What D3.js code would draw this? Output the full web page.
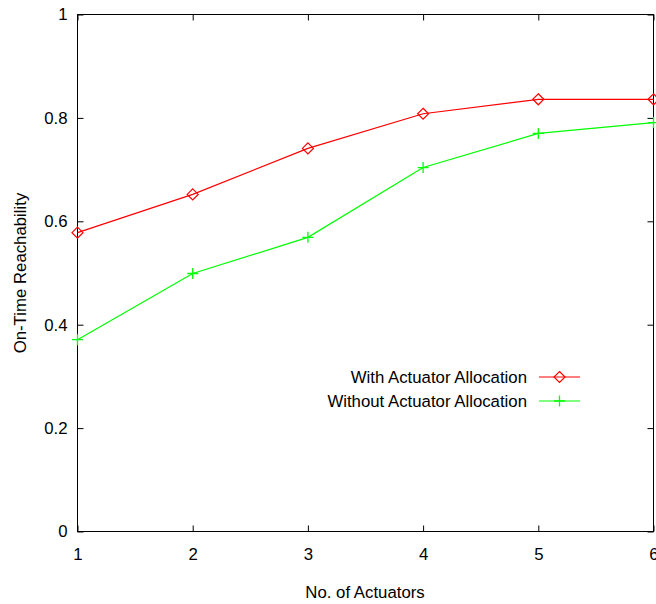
<!DOCTYPE html>
<html>
<head>
<meta charset="utf-8">
<script src="https://cdn.jsdelivr.net/npm/d3@7"></script>
<style>
  html, body { margin: 0; padding: 0; background: #fff; }
  svg { display: block; }
  text { font-family: "Liberation Sans", Arial, Helvetica, sans-serif; fill: #000; }
</style>
</head>
<body>
<script>
// Actuator counts along the x axis
const actuators = [1, 2, 3, 4, 5, 6];
// On-time reachability per actuator count
const withAllocation = [0.578, 0.652, 0.741, 0.808, 0.836, 0.836];
const withoutAllocation = [0.371, 0.499, 0.569, 0.704, 0.770, 0.791];
const yTicks = [0, 0.2, 0.4, 0.6, 0.8, 1];
const yTickLabels = ["0", "0.2", "0.4", "0.6", "0.8", "1"];
const seriesNames = ["With Actuator Allocation", "Without Actuator Allocation"];

const W = 656, H = 604;
const plotLeft = 77.5, plotRight = 653.5, plotTop = 14.5, plotBottom = 531.5;
const fontSize = "16.8px";

const svg = d3.select("body").append("svg").attr("width", W).attr("height", H);

const x = d3.scaleLinear().domain([1, 6]).range([plotLeft, plotRight]);
const y = d3.scaleLinear().domain([0, 1]).range([plotBottom, plotTop]);

const tickLen = 6;

// Left axis (labels) with ticks pointing inward
const yAxis = d3.axisLeft(y).tickValues(yTicks)
  .tickFormat((d, i) => yTickLabels[i]).tickSize(-tickLen).tickPadding(10);
const gy = svg.append("g").attr("transform", `translate(${plotLeft},0)`).call(yAxis);
gy.select(".domain").remove();
gy.selectAll("line").attr("stroke", "#000");
gy.selectAll("text").style("font-size", fontSize).attr("fill", "#000");

// Right mirrored ticks
const gyr = svg.append("g").attr("transform", `translate(${plotRight},0)`)
  .call(d3.axisRight(y).tickValues(yTicks).tickSize(-tickLen).tickFormat(""));
gyr.select(".domain").remove();
gyr.selectAll("line").attr("stroke", "#000");

// Bottom axis with inward ticks
const xAxis = d3.axisBottom(x).tickValues(actuators).tickFormat(d3.format("d"))
  .tickSize(-tickLen).tickPadding(16.5);
const gx = svg.append("g").attr("transform", `translate(0,${plotBottom})`).call(xAxis);
gx.select(".domain").remove();
gx.selectAll("line").attr("stroke", "#000");
gx.selectAll("text").style("font-size", fontSize).attr("fill", "#000");

// Top mirrored ticks
const gxt = svg.append("g").attr("transform", `translate(0,${plotTop})`)
  .call(d3.axisTop(x).tickValues(actuators).tickSize(-tickLen).tickFormat(""));
gxt.select(".domain").remove();
gxt.selectAll("line").attr("stroke", "#000");

// Plot border
svg.append("rect")
  .attr("x", plotLeft).attr("y", plotTop)
  .attr("width", plotRight - plotLeft).attr("height", plotBottom - plotTop)
  .attr("fill", "none").attr("stroke", "#000").attr("stroke-width", 1);

// Axis titles
svg.append("text")
  .attr("x", 365).attr("y", 598)
  .attr("text-anchor", "middle").style("font-size", fontSize)
  .text("No. of Actuators");
svg.append("text")
  .attr("transform", `translate(26,${(plotTop + plotBottom) / 2}) rotate(-90)`)
  .attr("text-anchor", "middle").style("font-size", fontSize)
  .text("On-Time Reachability");

const series = [
  { name: seriesNames[0], values: withAllocation, color: "#ff0000", marker: "diamond" },
  { name: seriesNames[1], values: withoutAllocation, color: "#00ff00", marker: "plus" }
];

const line = d3.line().x((d, i) => x(actuators[i])).y(d => y(d));

function drawMarker(g, type, cx, cy, color) {
  const r = 5.5;
  if (type === "diamond") {
    g.append("path")
      .attr("d", `M${cx},${cy - r}L${cx + r},${cy}L${cx},${cy + r}L${cx - r},${cy}Z`)
      .attr("fill", "none").attr("stroke", color).attr("stroke-width", 1.2);
  } else {
    g.append("path")
      .attr("d", `M${cx - r},${cy}H${cx + r}M${cx},${cy - r}V${cy + r}`)
      .attr("fill", "none").attr("stroke", color).attr("stroke-width", 1.3);
  }
}

series.forEach(s => {
  svg.append("path").datum(s.values)
    .attr("d", line).attr("fill", "none")
    .attr("stroke", s.color).attr("stroke-width", 1.2);
  const g = svg.append("g");
  s.values.forEach((v, i) => drawMarker(g, s.marker, x(actuators[i]), y(v), s.color));
});

// Legend
const legendY = [377, 401];
series.forEach((s, i) => {
  const ly = legendY[i];
  svg.append("text")
    .attr("x", 527).attr("y", ly).attr("dy", "0.35em")
    .attr("text-anchor", "end").style("font-size", fontSize)
    .text(s.name);
  svg.append("line")
    .attr("x1", 539).attr("x2", 580).attr("y1", ly).attr("y2", ly)
    .attr("stroke", s.color).attr("stroke-width", 1.2);
  drawMarker(svg, s.marker, 559.5, ly, s.color);
});
</script>
</body>
</html>
